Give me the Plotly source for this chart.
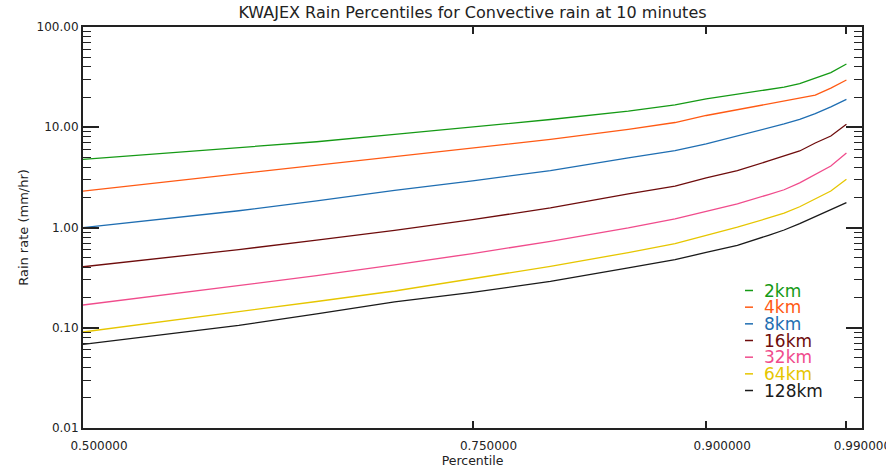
import plotly.graph_objects as go

# ---- data ----
percentile = [0.50, 0.55, 0.60, 0.65, 0.70, 0.75, 0.80, 0.85, 0.88, 0.90,
              0.92, 0.94, 0.95, 0.96, 0.97, 0.98, 0.99]

rain_2km = [4.79, 5.47, 6.27, 7.17, 8.50, 10.1, 11.95, 14.5, 16.7, 19.2,
            21.3, 23.7, 25.1, 27.3, 31.1, 35.1, 42.7]
rain_4km = [2.31, 2.81, 3.42, 4.17, 5.04, 6.14, 7.56, 9.52, 11.15, 13.1,
            15.0, 17.1, 18.4, 19.6, 20.9, 24.6, 29.6]
rain_8km = [0.995, 1.21, 1.47, 1.84, 2.35, 2.92, 3.70, 4.96, 5.84, 6.81,
            8.14, 9.81, 10.8, 12.0, 13.65, 16.0, 19.0]
rain_16km = [0.406, 0.494, 0.602, 0.750, 0.938, 1.196, 1.57, 2.17, 2.59, 3.13,
             3.70, 4.61, 5.17, 5.80, 6.96, 8.18, 10.7]
rain_32km = [0.1686, 0.2107, 0.2633, 0.3305, 0.4244, 0.550, 0.727, 0.989, 1.22, 1.45,
             1.72, 2.13, 2.38, 2.79, 3.40, 4.11, 5.53]
rain_64km = [0.0907, 0.1139, 0.1432, 0.1827, 0.2326, 0.3064, 0.410, 0.562, 0.689, 0.836,
             1.007, 1.244, 1.389, 1.61, 1.94, 2.31, 3.03]
rain_128km = [0.0684, 0.0847, 0.1055, 0.1377, 0.1811, 0.2253, 0.290, 0.395, 0.478, 0.564,
              0.663, 0.836, 0.944, 1.091, 1.29, 1.51, 1.77]

series_names = ["2km", "4km", "8km", "16km", "32km", "64km", "128km"]
series_values = [rain_2km, rain_4km, rain_8km, rain_16km, rain_32km, rain_64km, rain_128km]
series_colors = ["#159a15", "#ff5a14", "#1f6eb2", "#6e0c0c", "#f04c8c", "#e6c600", "#1a1a1a"]

x_tickvals = [0.50, 0.75, 0.90, 0.99]
x_ticktext = ["0.500000", "0.750000", "0.900000", "0.990000"]

# ---- layout geometry (pixels) ----
W, H = 886, 473
L, R, T, B = 83, 24, 27, 45
PW, PH = W - L - R, H - T - B

def px_x(px):
    return (px - L) / PW

def px_y(py):
    return (H - B - py) / PH

FONT = "DejaVu Sans"
AX = "#222222"

fig = go.Figure()
for name, vals, col in zip(series_names, series_values, series_colors):
    fig.add_trace(go.Scatter(x=percentile, y=vals, mode="lines", name=name,
                             line=dict(color=col, width=1.3), showlegend=False))

# legend drawn as text entries (IDL-style)
annotations = []
shapes = []
leg_y0, leg_dy = 290.5, 16.67
for i, (name, col) in enumerate(zip(series_names, series_colors)):
    yy = leg_y0 + i * leg_dy
    annotations.append(dict(x=px_x(762), y=px_y(yy), xref="paper", yref="paper",
                            text=name, showarrow=False, xanchor="left", yanchor="middle",
                            font=dict(family=FONT, size=17, color=col)))
    shapes.append(dict(type="line", xref="paper", yref="paper",
                       x0=px_x(745), x1=px_x(753), y0=px_y(yy), y1=px_y(yy),
                       line=dict(color=col, width=1.5)))

fig.update_layout(
    width=W, height=H,
    margin=dict(l=L, r=R, t=T, b=B, pad=0),
    paper_bgcolor="white", plot_bgcolor="white",
    font=dict(family=FONT, size=12, color=AX),
    title=dict(text="KWAJEX Rain Percentiles for Convective rain at 10 minutes",
               x=0.5, xref="paper", xanchor="center",
               y=1 - 12 / H, yref="container", yanchor="middle",
               font=dict(family=FONT, size=16, color=AX)),
    annotations=annotations,
    shapes=shapes,
    showlegend=False,
)

fig.update_xaxes(
    range=[0.5, 1.0], tickmode="array", tickvals=x_tickvals, ticktext=x_ticktext,
    ticks="inside", ticklen=7, tickwidth=1.5, tickcolor=AX,
    showline=True, linewidth=2, linecolor=AX, mirror="ticks",
    showgrid=False, zeroline=False,
    ticklabelshift=16, ticklabelstandoff=6, ticklabeloverflow="allow",
    tickfont=dict(family=FONT, size=12, color=AX),
    title=dict(text="Percentile", standoff=4, font=dict(family=FONT, size=12.5, color=AX)),
    automargin=False,
)

fig.update_yaxes(
    type="log", range=[-2, 2], tickmode="linear", tick0=0, dtick=1, tickformat=".2f",
    ticks="inside", ticklen=16, tickwidth=1.5, tickcolor=AX,
    minor=dict(ticks="inside", ticklen=8, tickwidth=1.2, tickcolor=AX, dtick="D1", showgrid=False),
    showline=True, linewidth=2, linecolor=AX, mirror="ticks",
    showgrid=False, zeroline=False,
    tickfont=dict(family=FONT, size=12, color=AX),
    title=dict(text="Rain rate (mm/hr)", standoff=5, font=dict(family=FONT, size=13, color=AX)),
    automargin=False,
)

fig.write_html("out.html")
